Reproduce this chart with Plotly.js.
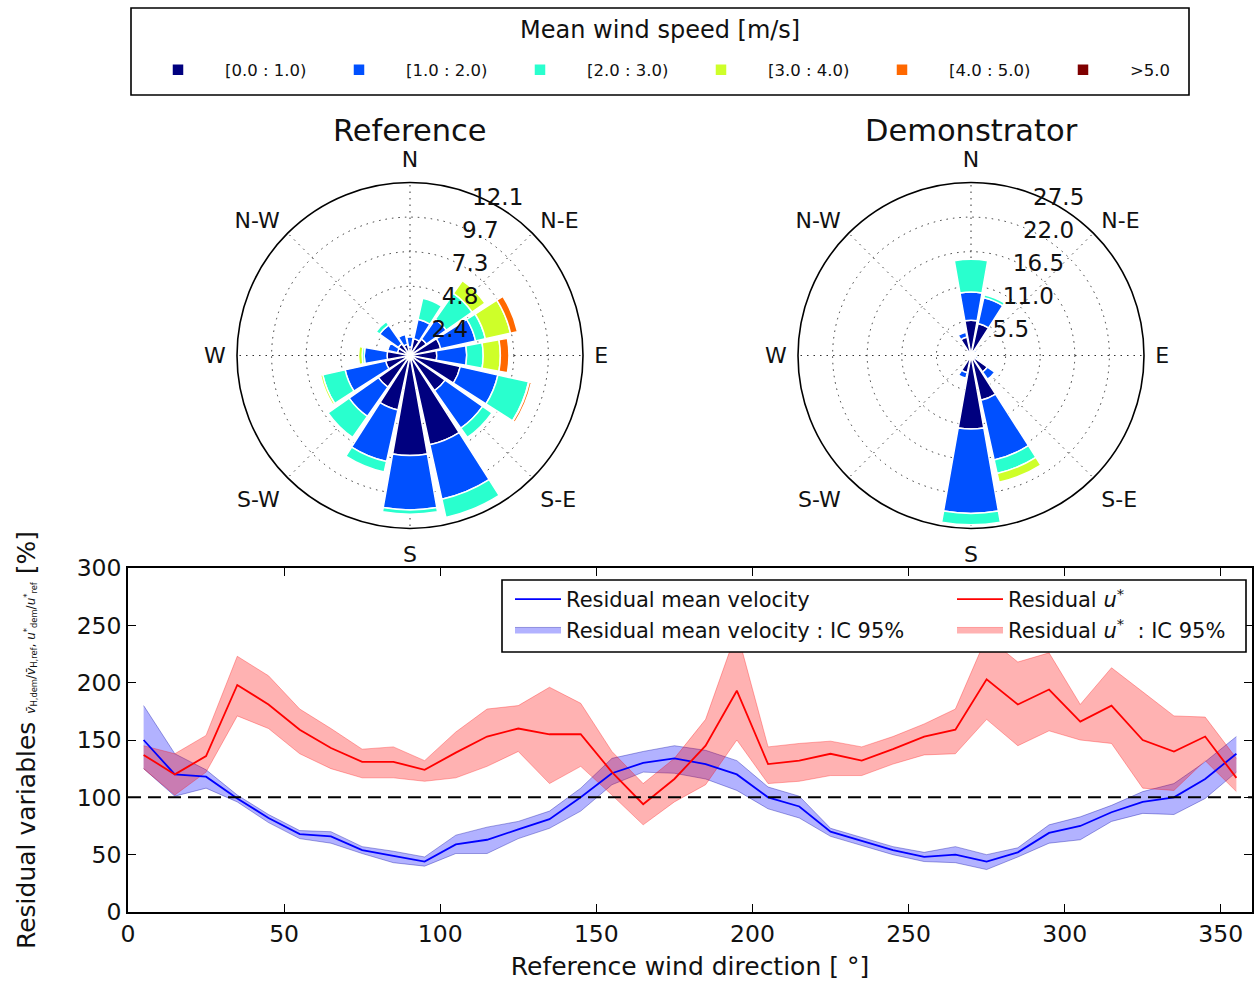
<!DOCTYPE html>
<html>
<head>
<meta charset="utf-8">
<script src="https://cdn.plot.ly/plotly-3.0.1.min.js"></script>
<style>html,body{margin:0;padding:0;background:#fff;}</style>
</head>
<body>
<div id="chart" style="width:1255px;height:981px;"></div>
<script>
// ---------------- Wind rose data (frequency %, stacked by speed bin) ----------------
const directions = [0, 22.5, 45, 67.5, 90, 112.5, 135, 157.5, 180, 202.5, 225, 247.5, 270, 292.5, 315, 337.5];
const speedBins = ['[0.0 : 1.0)', '[1.0 : 2.0)', '[2.0 : 3.0)', '[3.0 : 4.0)', '[4.0 : 5.0)', '>5.0'];
const binColors = ['#00007f', '#0050ff', '#29ffce', '#ceff29', '#ff6800', '#7f0000'];

// Reference site
const ref_0_1 = [0.6, 1.2, 1.4, 2.2, 1.87, 3.6, 3.0, 6.4, 7.0, 3.9, 2.7, 1.75, 1.6, 0.9, 1.0, 0.8];
const ref_1_2 = [0.7, 1.4, 1.7, 2.5, 2.1, 2.7, 3.2, 3.9, 3.8, 3.7, 2.5, 2.9, 1.6, 0.7, 1.6, 0.7];
const ref_2_3 = [0.0, 1.5, 2.2, 0.7, 1.15, 2.2, 0.8, 1.3, 0.3, 0.75, 1.8, 1.6, 0.15, 0.0, 0.3, 0.0];
const ref_3_4 = [0.0, 0.0, 1.1, 1.8, 1.2, 0.05, 0.0, 0.0, 0.0, 0.0, 0.0, 0.15, 0.25, 0.0, 0.0, 0.0];
const ref_4_5 = [0.0, 0.0, 0.0, 0.5, 0.6, 0.15, 0.0, 0.0, 0.0, 0.0, 0.0, 0.0, 0.0, 0.0, 0.0, 0.0];
const ref_5p  = [0, 0, 0, 0, 0, 0, 0, 0, 0, 0, 0, 0, 0, 0, 0, 0];

// Demonstrator site
const dem_0_1 = [5.6, 5.2, 0.8, 0.5, 0.4, 0.8, 3.2, 7.3, 11.7, 2.8, 0.5, 0.3, 0.3, 0.3, 0.6, 3.0];
const dem_1_2 = [4.5, 4.2, 0.3, 0.0, 0.0, 0.3, 1.4, 9.7, 13.4, 0.9, 0.0, 0.0, 0.0, 0.0, 0.0, 0.8];
const dem_2_3 = [5.2, 0.5, 0.0, 0.0, 0.0, 0.0, 0.0, 2.2, 1.8, 0.0, 0.0, 0.0, 0.0, 0.0, 0.0, 0.0];
const dem_3_4 = [0, 0, 0, 0, 0, 0, 0, 1.45, 0, 0, 0, 0, 0, 0, 0, 0];
const dem_4_5 = [0, 0, 0, 0, 0, 0, 0, 0, 0, 0, 0, 0, 0, 0, 0, 0];
const dem_5p  = [0, 0, 0, 0, 0, 0, 0, 0, 0, 0, 0, 0, 0, 0, 0, 0];

const compassAngles = [0, 45, 90, 135, 180, 225, 270, 315];
const compassLabels = ['N', 'N-E', 'E', 'S-E', 'S', 'S-W', 'W', 'N-W'];
const refRingValues = [2.42, 4.84, 7.26, 9.68, 12.1];
const refRingLabels = ['2.4', '4.8', '7.3', '9.7', '12.1'];
const demRingValues = [5.5, 11.0, 16.5, 22.0, 27.5];
const demRingLabels = ['5.5', '11.0', '16.5', '22.0', '27.5'];

// ---------------- Residual data ----------------
const refDirection = [5, 15, 25, 35, 45, 55, 65, 75, 85, 95, 105, 115, 125, 135, 145, 155, 165, 175,
                      185, 195, 205, 215, 225, 235, 245, 255, 265, 275, 285, 295, 305, 315, 325, 335, 345, 355];
const velResidual = [150, 120, 118, 99, 82, 68, 66, 54, 49, 44, 59, 63, 72, 81, 100, 121, 130, 134,
                     129, 120, 100, 92, 70, 62, 54, 48, 50, 44, 52, 69, 75, 87, 96, 100, 116, 138];
const velLow  = [125, 101, 108, 96, 78, 64, 60, 51, 43, 40, 51, 51, 64, 73, 88, 111, 122, 121,
                 116, 106, 90, 82, 66, 58, 50, 44, 43, 37, 48, 60, 63, 79, 86, 85, 99, 122];
const velHigh = [180, 138, 124, 102, 85, 71, 70, 57, 53, 48, 67, 74, 79, 88, 108, 134, 140, 145,
                 141, 132, 109, 101, 73, 65, 57, 52, 57, 50, 56, 76, 83, 93, 105, 112, 131, 153];
const ustarResidual = [137, 120, 136, 198, 181, 159, 143, 131, 131, 124, 139, 153, 160, 155, 155, 122, 94, 116,
                       145, 193, 129, 132, 138, 132, 142, 153, 159, 203, 181, 194, 166, 180, 150, 140, 153, 117];
const ustarLow  = [125, 102, 122, 171, 160, 138, 125, 117, 117, 114, 117, 127, 140, 112, 127, 102, 76, 96,
                   111, 150, 112, 114, 119, 119, 129, 137, 138, 168, 145, 158, 150, 147, 108, 106, 132, 105];
const ustarHigh = [145, 138, 154, 223, 206, 177, 160, 142, 144, 132, 157, 177, 180, 196, 182, 140, 112, 134,
                   168, 245, 144, 147, 149, 144, 153, 164, 177, 240, 218, 226, 181, 213, 192, 171, 170, 134];
const xTicks = [0, 50, 100, 150, 200, 250, 300, 350];
const yTicks = [0, 50, 100, 150, 200, 250, 300];
const referenceLevel = 100;

// ---------------- Build traces ----------------
const W = 1255, H = 981;
const refBins = [ref_0_1, ref_1_2, ref_2_3, ref_3_4, ref_4_5, ref_5p];
const demBins = [dem_0_1, dem_1_2, dem_2_3, dem_3_4, dem_4_5, dem_5p];
const traces = [];
refBins.forEach((vals, i) => {
  traces.push({
    type: 'barpolar', subplot: 'polar', r: vals, theta: directions, width: 20,
    name: speedBins[i], legend: 'legend', showlegend: true,
    legendwidth: i === 5 ? 40 : 82,
    marker: {color: binColors[i], line: {color: 'white', width: 1.5}},
    hoverinfo: 'r+theta'
  });
});
demBins.forEach((vals, i) => {
  traces.push({
    type: 'barpolar', subplot: 'polar2', r: vals, theta: directions, width: 20,
    name: speedBins[i], showlegend: false,
    marker: {color: binColors[i], line: {color: 'white', width: 1.5}},
    hoverinfo: 'r+theta'
  });
});

const blueFill = 'rgba(0,0,255,0.3)';
const redFill = 'rgba(255,0,0,0.3)';
// Blue IC band
traces.push({x: refDirection, y: velLow, type: 'scatter', mode: 'lines', line: {color: 'rgba(0,0,160,0.35)', width: 1},
             showlegend: false, hoverinfo: 'skip'});
traces.push({x: refDirection, y: velHigh, type: 'scatter', mode: 'lines', fill: 'tonexty', fillcolor: blueFill,
             line: {color: 'rgba(0,0,160,0.35)', width: 1}, name: 'Residual mean velocity : IC 95%',
             legend: 'legend2', legendgroup: 'b2', legendrank: 2});
// Red IC band
traces.push({x: refDirection, y: ustarLow, type: 'scatter', mode: 'lines', line: {color: 'rgba(255,0,0,0.3)', width: 1},
             showlegend: false, hoverinfo: 'skip'});
traces.push({x: refDirection, y: ustarHigh, type: 'scatter', mode: 'lines', fill: 'tonexty', fillcolor: redFill,
             line: {color: 'rgba(255,0,0,0.3)', width: 1}, name: 'Residual <i>u</i><sup>*</sup>  : IC 95%',
             legend: 'legend3', legendgroup: 'r2', legendrank: 2});
// Lines
traces.push({x: refDirection, y: velResidual, type: 'scatter', mode: 'lines', line: {color: '#0000ff', width: 1.8},
             name: 'Residual mean velocity', legend: 'legend2', legendgroup: 'b1', legendrank: 1});
traces.push({x: refDirection, y: ustarResidual, type: 'scatter', mode: 'lines', line: {color: '#ff0000', width: 1.8},
             name: 'Residual <i>u</i><sup>*</sup>', legend: 'legend3', legendgroup: 'r1', legendrank: 1});

// ---------------- Layout ----------------
const R = 173;
function polarDomain(cx, cyTop) {
  const cy = H - cyTop;
  return {x: [(cx - R) / W, (cx + R) / W], y: [(cy - R) / H, (cy + R) / H]};
}
const gridDash = '1.5px,5px';
const labelAngle = 73;
function polarAxes(range, ringVals, ringLabels, domain) {
  return {
    domain: domain, bgcolor: 'white', barmode: 'stack',
    angularaxis: {
      rotation: 90, direction: 'clockwise', tickmode: 'array', tickvals: compassAngles, ticktext: compassLabels,
      tickfont: {size: 22, color: '#111'}, showline: true, linecolor: 'black', linewidth: 1.6,
      showgrid: true, gridcolor: '#333', gridwidth: 1.2, griddash: gridDash,
      ticks: 'outside', ticklen: 6, tickcolor: 'rgba(0,0,0,0)'
    },
    radialaxis: {
      range: range, tickmode: 'array', tickvals: ringVals, ticktext: ringLabels, angle: labelAngle, tickangle: labelAngle,
      tickfont: {size: 23, color: '#111'}, showline: false, ticks: '',
      showgrid: true, gridcolor: '#333', gridwidth: 1.2, griddash: gridDash
    }
  };
}

const layout = {
  width: W, height: H,
  margin: {l: 0, r: 0, t: 0, b: 0},
  paper_bgcolor: 'white', plot_bgcolor: 'white',
  font: {family: 'DejaVu Sans, sans-serif', color: '#111'},
  polar: polarAxes([0, 12.1], refRingValues, refRingLabels, polarDomain(410, 355.5)),
  polar2: polarAxes([0, 27.5], demRingValues, demRingLabels, polarDomain(971, 355.5)),
  xaxis: {
    domain: [128 / W, 1252 / W], range: [0, 360], tickmode: 'array', tickvals: xTicks,
    ticks: 'inside', ticklen: 8, tickwidth: 1.2, tickcolor: 'black', mirror: 'allticks',
    showline: true, linecolor: 'black', linewidth: 1.6, showgrid: false, zeroline: false,
    tickfont: {size: 23.5}, automargin: false,
    title: {text: 'Reference wind direction [ °]', font: {size: 25}, standoff: 13}
  },
  yaxis: {
    domain: [1 - 912 / H, 1 - 568 / H], range: [0, 300], tickmode: 'array', tickvals: yTicks,
    ticks: 'inside', ticklen: 8, tickwidth: 1.2, tickcolor: 'black', mirror: 'allticks',
    showline: true, linecolor: 'black', linewidth: 1.6, showgrid: false, zeroline: false,
    tickfont: {size: 23.5}, automargin: false,
    title: {
      text: "Residual variables <span style='font-size:12px'><i>v̄</i><sub>H,dem</sub>/<i>v̄</i><sub>H,ref</sub>, <i>u</i><sup>*</sup><sub>dem</sub>/<i>u</i><sup>*</sup><sub>ref</sub></span> [%]",
      font: {size: 25}, standoff: 34
    }
  },
  legend: {
    orientation: 'h', x: 131 / W, xanchor: 'left', y: 1 - 70 / H, yanchor: 'middle',
    bgcolor: 'rgba(0,0,0,0)', borderwidth: 0,
    font: {size: 16.5}, itemwidth: 84, entrywidthmode: 'pixels', entrywidth: 82,
    itemclick: false, itemdoubleclick: false
  },
  legend2: {
    x: 510 / W, xanchor: 'left', y: 1 - 579 / H, yanchor: 'top', bgcolor: 'rgba(0,0,0,0)', borderwidth: 0,
    font: {size: 21}, itemwidth: 46, tracegroupgap: 8, traceorder: 'normal'
  },
  legend3: {
    x: 952 / W, xanchor: 'left', y: 1 - 579 / H, yanchor: 'top', bgcolor: 'rgba(0,0,0,0)', borderwidth: 0,
    font: {size: 21}, itemwidth: 46, tracegroupgap: 8, traceorder: 'normal'
  },
  shapes: [
    {type: 'line', xref: 'x', yref: 'y', x0: 0, x1: 360, y0: referenceLevel, y1: referenceLevel,
     line: {color: 'black', width: 2, dash: '13px,7px'}, layer: 'above'},
    {type: 'rect', xref: 'paper', yref: 'paper', x0: 502 / W, x1: 1246 / W, y0: 1 - 652 / H, y1: 1 - 580 / H,
     fillcolor: 'white', line: {color: 'black', width: 1.6}, layer: 'above'},
    {type: 'rect', xref: 'paper', yref: 'paper', x0: 131 / W, x1: 1189 / W, y0: 1 - 95 / H, y1: 1 - 8 / H,
     fillcolor: 'white', line: {color: 'black', width: 1.6}, layer: 'above'}
  ],
  annotations: [
    {text: 'Mean wind speed [m/s]', xref: 'paper', yref: 'paper', x: 660 / W, y: 1 - 30 / H, showarrow: false,
     xanchor: 'center', yanchor: 'middle', font: {size: 24}},
    {text: 'Reference', xref: 'paper', yref: 'paper', x: 410 / W, y: 1 - 130 / H, showarrow: false,
     xanchor: 'center', yanchor: 'middle', font: {size: 30.5}},
    {text: 'Demonstrator', xref: 'paper', yref: 'paper', x: 971 / W, y: 1 - 130 / H, showarrow: false,
     xanchor: 'center', yanchor: 'middle', font: {size: 30.5}}
  ]
};

Plotly.newPlot('chart', traces, layout, {displayModeBar: false, staticPlot: false});
</script>
</body>
</html>
